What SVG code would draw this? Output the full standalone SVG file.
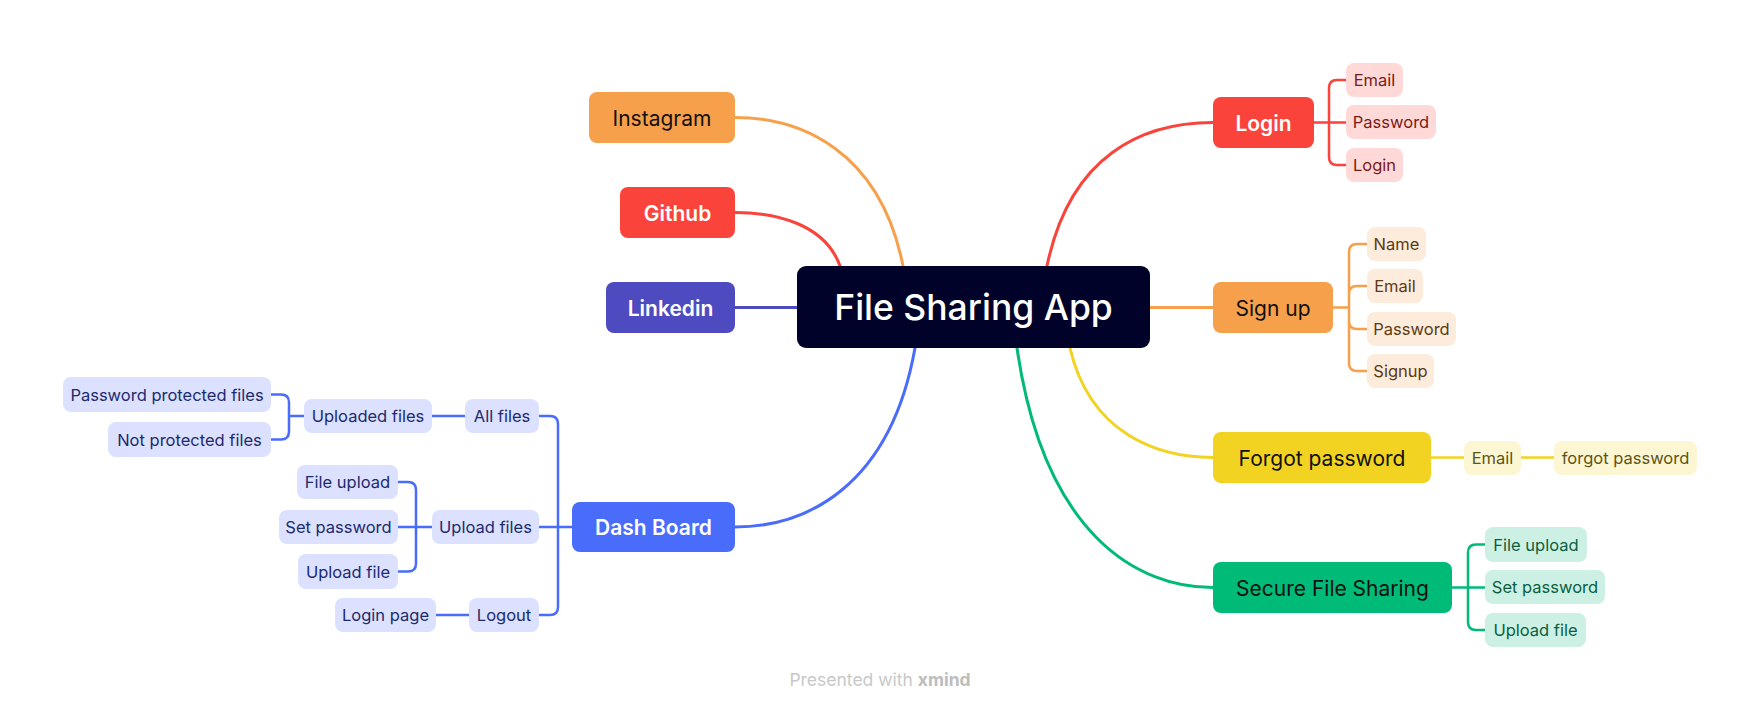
<svg xmlns="http://www.w3.org/2000/svg" width="1760" height="710" viewBox="0 0 1760 710">
<style>
text{font-family:Inter,"Noto Sans","Liberation Sans",sans-serif;text-anchor:middle;dominant-baseline:central}
.c{font-size:35.5px;font-weight:500;fill:#fff}
.m{font-size:21px;font-weight:400;fill:#111}
.mb{font-size:21px;font-weight:600;fill:#fff}
.s{font-size:16.5px;font-weight:400}
.ln{fill:none;stroke-width:3;stroke-linecap:round}
.br{fill:none;stroke-width:2.5}
.red{stroke:#FA433A}.org{stroke:#F7A04B}.pur{stroke:#4E4BC1}.yel{stroke:#F2D322}.grn{stroke:#00BB78}.blu{stroke:#4A6CFB}
.fr{fill:#FFD9D8}.fo{fill:#FDEBDB}.fy{fill:#FDF6D2}.fg{fill:#CCF1E4}.fb{fill:#DBE1FE}
.tr{fill:#7A1A14}.to{fill:#5C3A14}.ty{fill:#5E5414}.tg{fill:#0B5E40}.tb{fill:#1D2A6E}
</style>
<g id="connectors">
<path class="ln org" d="M735,117.5 C800,117.5 880,150 903,266"/>
<path class="ln red" d="M735,212.5 C776,212.5 825,224 840,266"/>
<path class="ln pur" d="M735,307.5 H797"/>
<path class="ln blu" d="M735,527 C805,527 890,488 915,348"/>
<path class="ln red" d="M1213,122.5 C1143,122.5 1070,154.5 1047,266"/>
<path class="ln org" d="M1150,307.5 H1213"/>
<path class="ln yel" d="M1213,457.5 C1157,457.5 1090,433.5 1070,348"/>
<path class="ln grn" d="M1213,587.5 C1137,587.5 1044,534.5 1017,348"/>
<path class="br red" d="M1314,122.5 H1329 V88 Q1329,80 1337,80 H1346 M1314,122.5 H1346 M1329,122.5 V157 Q1329,165 1337,165 H1346"/>
<path class="br org" d="M1333,307.5 H1349 V252 Q1349,244 1357,244 H1367 M1349,294 Q1349,286 1357,286 H1367 M1349,307.5 V363 Q1349,371 1357,371 H1367 M1349,321 Q1349,329 1357,329 H1367"/>
<path class="br yel" d="M1431,457.5 H1464 M1521,457.5 H1554"/>
<path class="br grn" d="M1452,587.5 H1468 V552.5 Q1468,544.5 1476,544.5 H1485 M1452,587.5 H1485 M1468,587.5 V622 Q1468,630 1476,630 H1485"/>
<path class="br blu" d="M572,527 H558 V424 Q558,416 550,416 H539 M572,527 H539 M558,527 V607 Q558,615 550,615 H539"/>
<path class="br blu" d="M465,416 H432 M304,416 H289 V402.5 Q289,394.5 281,394.5 H271 M289,416 V431.5 Q289,439.5 281,439.5 H271"/>
<path class="br blu" d="M432,527 H416 V490 Q416,482 408,482 H398 M432,527 H398 M416,527 V563.5 Q416,571.5 408,571.5 H398"/>
<path class="br blu" d="M469,615 H436"/>
</g>
<g id="central"><rect x="797" y="266" width="353" height="82" rx="9" fill="#000229"/><text class="c" x="973.5" y="307">File Sharing App</text></g>
<g id="instagram"><rect x="589" y="92" width="146" height="51" rx="8" fill="#F7A04B"/><text class="m" x="662" y="118">Instagram</text></g>
<g id="github"><rect x="620" y="187" width="115" height="51" rx="8" fill="#FA433A"/><text class="mb" x="677.5" y="213">Github</text></g>
<g id="linkedin"><rect x="606" y="282" width="129" height="51" rx="8" fill="#4E4BC1"/><text class="mb" x="670.5" y="308">Linkedin</text></g>
<g id="dashboard"><rect x="572" y="502" width="163" height="50" rx="8" fill="#4A6CFB"/><text class="mb" x="653.5" y="527.5">Dash Board</text></g>
<g id="login"><rect x="1213" y="97" width="101" height="51" rx="8" fill="#FA433A"/><text class="mb" x="1263.5" y="123">Login</text></g>
<g id="signup"><rect x="1213" y="282" width="120" height="51" rx="8" fill="#F7A04B"/><text class="m" x="1273" y="308">Sign up</text></g>
<g id="forgot"><rect x="1213" y="432" width="218" height="51" rx="8" fill="#F2D322"/><text class="m" x="1322" y="458">Forgot password</text></g>
<g id="secure"><rect x="1213" y="562" width="239" height="51" rx="8" fill="#00BB78"/><text class="m" x="1332.5" y="588">Secure File Sharing</text></g>
<g id="login-email"><rect class="fr" x="1346" y="63" width="57" height="34" rx="8"/><text class="s tr" x="1374.5" y="80">Email</text></g>
<g id="login-password"><rect class="fr" x="1346" y="105" width="90" height="34" rx="8"/><text class="s tr" x="1391" y="122">Password</text></g>
<g id="login-login"><rect class="fr" x="1346" y="148" width="57" height="34" rx="8"/><text class="s tr" x="1374.5" y="165">Login</text></g>
<g id="signup-name"><rect class="fo" x="1367" y="227" width="59" height="34" rx="8"/><text class="s to" x="1396.5" y="244">Name</text></g>
<g id="signup-email"><rect class="fo" x="1367" y="269" width="56" height="34" rx="8"/><text class="s to" x="1395" y="286">Email</text></g>
<g id="signup-password"><rect class="fo" x="1367" y="312" width="89" height="34" rx="8"/><text class="s to" x="1411.5" y="329">Password</text></g>
<g id="signup-signup"><rect class="fo" x="1367" y="354" width="67" height="34" rx="8"/><text class="s to" x="1400.5" y="371">Signup</text></g>
<g id="forgot-email"><rect class="fy" x="1464" y="441" width="57" height="34" rx="8"/><text class="s ty" x="1492.5" y="458">Email</text></g>
<g id="forgot-forgot"><rect class="fy" x="1554" y="441" width="143" height="34" rx="8"/><text class="s ty" x="1625.5" y="458">forgot password</text></g>
<g id="secure-fileupload"><rect class="fg" x="1485" y="527" width="102" height="35" rx="8"/><text class="s tg" x="1536" y="544.5">File upload</text></g>
<g id="secure-setpassword"><rect class="fg" x="1485" y="570" width="120" height="34" rx="8"/><text class="s tg" x="1545" y="587">Set password</text></g>
<g id="secure-uploadfile"><rect class="fg" x="1485" y="613" width="101" height="34" rx="8"/><text class="s tg" x="1535.5" y="630">Upload file</text></g>
<g id="allfiles"><rect class="fb" x="465" y="399" width="74" height="34" rx="8"/><text class="s tb" x="502" y="416">All files</text></g>
<g id="uploadedfiles"><rect class="fb" x="304" y="399" width="128" height="34" rx="8"/><text class="s tb" x="368" y="416">Uploaded files</text></g>
<g id="ppf"><rect class="fb" x="63" y="377" width="208" height="35" rx="8"/><text class="s tb" x="167" y="394.5">Password protected files</text></g>
<g id="npf"><rect class="fb" x="108" y="422" width="163" height="35" rx="8"/><text class="s tb" x="189.5" y="439.5">Not protected files</text></g>
<g id="uploadfiles"><rect class="fb" x="432" y="510" width="107" height="34" rx="8"/><text class="s tb" x="485.5" y="527">Upload files</text></g>
<g id="d-fileupload"><rect class="fb" x="297" y="465" width="101" height="34" rx="8"/><text class="s tb" x="347.5" y="482">File upload</text></g>
<g id="d-setpassword"><rect class="fb" x="279" y="510" width="119" height="34" rx="8"/><text class="s tb" x="338.5" y="527">Set password</text></g>
<g id="d-uploadfile"><rect class="fb" x="298" y="554" width="100" height="35" rx="8"/><text class="s tb" x="348" y="571.5">Upload file</text></g>
<g id="logout"><rect class="fb" x="469" y="598" width="70" height="34" rx="8"/><text class="s tb" x="504" y="615">Logout</text></g>
<g id="loginpage"><rect class="fb" x="335" y="598" width="101" height="34" rx="8"/><text class="s tb" x="385.5" y="615">Login page</text></g>
<text x="880" y="679" style="font-size:17.5px;fill:#C8C8C8">Presented with <tspan style="font-weight:700;fill:#BDBDBD">xmind</tspan></text>
</svg>
